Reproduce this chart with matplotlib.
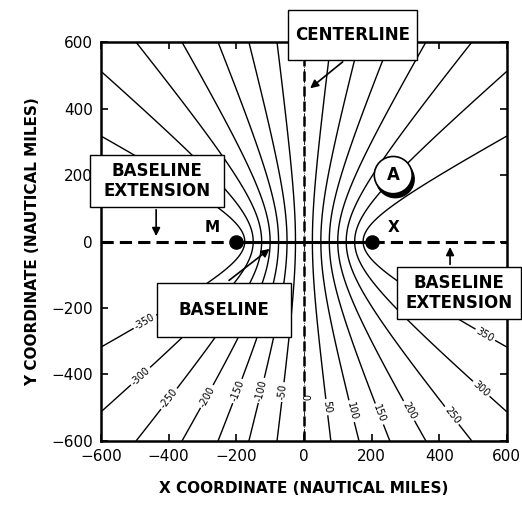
import numpy as np
import matplotlib
matplotlib.use("Agg")
import matplotlib.pyplot as plt
from matplotlib.patches import Rectangle, Circle

# stations (nautical miles) and hyperbolic lines of constant range difference
station_names = ["M", "X"]
station_x = [-200, 200]
station_y = [0, 0]
levels = [-350, -300, -250, -200, -150, -100, -50, 0, 50, 100, 150, 200, 250, 300, 350]
# where each level label sits (lower half of chart)
label_pos = [(-479, -226), (-493, -394), (-408, -466), (-298, -460), (-209, -445),
             (-138, -445), (-79, -451), (0, -469), (86, -496), (163, -505),
             (243, -511), (329, -499), (453, -511), (536, -430), (545, -265)]
ticks = [-600, -400, -200, 0, 200, 400, 600]

plt.rcParams['font.family'] = 'DejaVu Sans'

fig = plt.figure(figsize=(5.22, 5.08), dpi=100)
ax = fig.add_axes([0.1935, 0.132, 0.7775, 0.785])

gx = np.linspace(-600, 600, 801)
gy = np.linspace(-600, 600, 801)
X, Y = np.meshgrid(gx, gy)
rm = np.hypot(X - station_x[0], Y - station_y[0])
rx = np.hypot(X - station_x[1], Y - station_y[1])
diff = rm - rx

styles = ['dashdot' if lv == 0 else 'solid' for lv in levels]
widths = [0.6 if lv == 0 else 1.0 for lv in levels]
cs = ax.contour(X, Y, diff, levels=levels, colors='black', linestyles=styles, linewidths=widths)
ax.clabel(cs, levels=levels, manual=label_pos, fmt='%d', fontsize=7, inline=True, inline_spacing=2)

# baseline and extensions
ax.plot(station_x, station_y, color='black', lw=2.2, zorder=4)
ax.plot([-600, station_x[0]], [0, 0], color='black', lw=2.2, ls=(0, (4, 2)), zorder=4)
ax.plot([station_x[1], 600], [0, 0], color='black', lw=2.2, ls=(0, (4, 2)), zorder=4)
# centerline
ax.plot([0, 0], [-600, 600], color='black', lw=1.8, ls=(0, (4, 2)), zorder=4)
ax.scatter(station_x, station_y, s=90, color='black', zorder=6)
ax.text(-272, 41, station_names[0], fontsize=11, fontweight='bold', ha='center', va='center')
ax.text(264, 41, station_names[1], fontsize=11, fontweight='bold', ha='center', va='center')

def box(x0, x1, y0, y1, txt):
    ax.add_patch(Rectangle((x0, y0), x1 - x0, y1 - y0, facecolor='white', edgecolor='black',
                           lw=1.0, clip_on=False, zorder=7))
    ax.text((x0 + x1) / 2, (y0 + y1) / 2, txt, fontsize=12, fontweight='bold', ha='center',
            va='center', linespacing=1.1, clip_on=False, zorder=8)

box(-47, 334, 546, 696, "CENTERLINE")
box(-633, -236, 104, 260, "BASELINE\nEXTENSION")
box(-434, -38, -287, -125, "BASELINE")
box(275, 641, -233, -77, "BASELINE\nEXTENSION")

arrow = dict(arrowstyle='-|>', color='black', lw=1.2, mutation_scale=12)
ax.annotate('', xy=(12, 456), xytext=(121, 546), arrowprops=arrow, zorder=6)
ax.annotate('', xy=(-437, 8), xytext=(-437, 104), arrowprops=arrow, zorder=6)
ax.annotate('', xy=(-95, -17), xytext=(-228, -122), arrowprops=arrow, zorder=6)
ax.annotate('', xy=(432, -8), xytext=(432, -77), arrowprops=arrow, zorder=6)

# point A
ax.add_patch(Circle((270, 188), 56, facecolor='black', edgecolor='black', zorder=7))
ax.add_patch(Circle((264, 200), 56, facecolor='white', edgecolor='black', lw=1.2, zorder=8))
ax.text(264, 200, "A", fontsize=12, fontweight='bold', ha='center', va='center', zorder=9)

ax.set_xlim(-600, 600)
ax.set_ylim(-600, 600)
ax.set_xticks(ticks)
ax.set_yticks(ticks)
ax.tick_params(direction='in', top=True, right=True, labeltop=False, labelright=False,
               labelsize=11, length=5, width=1.2, pad=6)
for s in ax.spines.values():
    s.set_linewidth(1.8)
ax.set_xlabel("X COORDINATE (NAUTICAL MILES)", fontsize=11, fontweight='bold', labelpad=12)
ax.set_ylabel("Y COORDINATE (NAUTICAL MILES)", fontsize=11, fontweight='bold', labelpad=8)

fig.savefig("out.png", dpi=100)
